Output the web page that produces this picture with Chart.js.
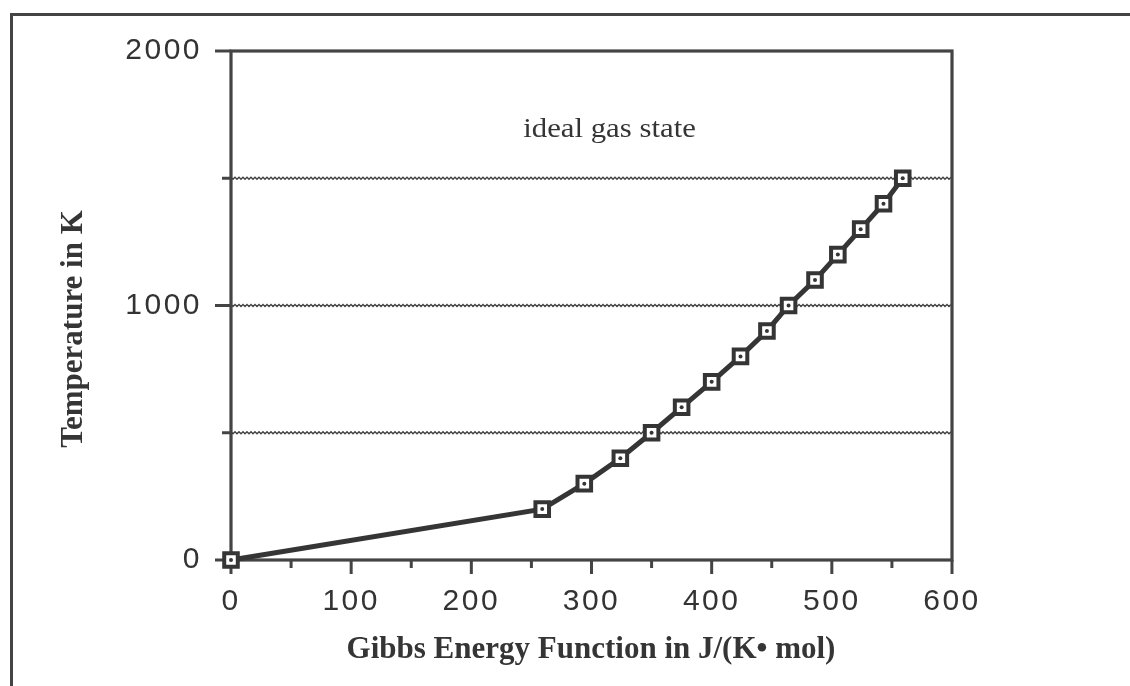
<!DOCTYPE html>
<html>
<head>
<meta charset="utf-8">
<script src="https://cdn.jsdelivr.net/npm/chart.js@4.4.1/dist/chart.umd.min.js"></script>
<style>
  html, body { margin: 0; padding: 0; background: #fff; }
  #wrap { width: 1130px; height: 686px; }
</style>
</head>
<body>
<div id="wrap"><canvas id="chart" width="1130" height="686"></canvas></div>
<script>
// 数据
const gibbsValues = [0, 259, 294, 324, 350, 375, 400, 424, 446, 464, 486, 505, 524, 543, 559];
const temperatures = [0, 200, 300, 400, 500, 600, 700, 800, 900, 1000, 1100, 1200, 1300, 1400, 1500];

// 刻度
const xTickValues = [0, 50, 100, 150, 200, 250, 300, 350, 400, 450, 500, 550, 600];
const xLabelValues = [0, 100, 200, 300, 400, 500, 600];
const yTickValues = [0, 500, 1000, 1500, 2000];
const yLabelValues = [0, 1000, 2000];
const gridValues = [500, 1000, 1500];

// 文字
const xTitle = 'Gibbs Energy Function in J/(K\u2022 mol)';
const yTitle = 'Temperature in K';
const noteText = 'ideal gas state';
const notePos = [315, 1690];

const INK = '#353535';

const points = gibbsValues.map((g, i) => ({ x: g, y: temperatures[i] }));

// 画框、网格、刻度和标题
const framePlugin = {
  id: 'frame',
  beforeDraw(chart) {
    const ctx = chart.ctx;
    ctx.save();
    ctx.fillStyle = '#fff';
    ctx.fillRect(0, 0, chart.width, chart.height);
    ctx.strokeStyle = '#444';
    ctx.lineWidth = 3;
    ctx.beginPath();
    ctx.moveTo(11.5, chart.height);
    ctx.lineTo(11.5, 14.5);
    ctx.lineTo(chart.width, 14.5);
    ctx.stroke();
    ctx.restore();
    // 刻度数字字距
    ctx.letterSpacing = '2.5px';
  },
  beforeDatasetsDraw(chart) {
    const ctx = chart.ctx;
    ctx.letterSpacing = '0px';
    const area = chart.chartArea;
    const xs = chart.scales.x, ys = chart.scales.y;
    ctx.save();
    // 波浪网格线
    ctx.strokeStyle = '#444';
    ctx.lineWidth = 1.4;
    gridValues.forEach(v => {
      const py = ys.getPixelForValue(v);
      ctx.beginPath();
      let up = true;
      for (let px = area.left; px <= area.right; px += 2) {
        const yy = py + (up ? -1 : 1);
        if (px === area.left) ctx.moveTo(px, yy); else ctx.lineTo(px, yy);
        up = !up;
      }
      ctx.stroke();
    });
    // 刻度线
    ctx.strokeStyle = '#444';
    ctx.lineWidth = 3;
    xTickValues.forEach(v => {
      const px = xs.getPixelForValue(v);
      const len = v % 100 === 0 ? 14 : 8;
      ctx.beginPath();
      ctx.moveTo(px, area.bottom);
      ctx.lineTo(px, area.bottom + len);
      ctx.stroke();
    });
    yTickValues.forEach(v => {
      const py = ys.getPixelForValue(v);
      const len = v % 1000 === 0 ? 16 : 9;
      ctx.beginPath();
      ctx.moveTo(area.left - len, py);
      ctx.lineTo(area.left, py);
      ctx.stroke();
    });
    // 绘图区边框
    ctx.lineWidth = 3.2;
    ctx.strokeRect(area.left, area.top, area.right - area.left, area.bottom - area.top);
    ctx.restore();
  },
  afterDraw(chart) {
    const ctx = chart.ctx;
    const xs = chart.scales.x, ys = chart.scales.y;
    ctx.save();
    ctx.letterSpacing = '0px';
    ctx.fillStyle = INK;
    ctx.textAlign = 'center';
    ctx.textBaseline = 'middle';
    ctx.font = 'bold 31px "Liberation Serif"';
    ctx.fillText(xTitle, 591, 650);
    ctx.save();
    ctx.translate(74, 329);
    ctx.rotate(-Math.PI / 2);
    ctx.fillText(yTitle, 0, 0);
    ctx.restore();
    // 注释文字（字形较宽）
    ctx.save();
    ctx.translate(xs.getPixelForValue(notePos[0]), ys.getPixelForValue(notePos[1]));
    ctx.scale(1.14, 1);
    ctx.font = '27px "Liberation Serif"';
    ctx.fillText(noteText, 0, 0);
    ctx.restore();
    ctx.restore();
  }
};

new Chart(document.getElementById('chart').getContext('2d'), {
  type: 'scatter',
  data: {
    datasets: [
      {
        // 方块中心的小点
        data: points,
        showLine: false,
        pointStyle: 'circle',
        pointRadius: 2,
        pointBorderWidth: 0,
        pointBackgroundColor: INK,
        order: 0,
        clip: false
      },
      {
        data: points,
        showLine: true,
        borderColor: INK,
        borderWidth: 5,
        tension: 0,
        pointStyle: 'rect',
        pointRadius: 9.6,
        pointBorderWidth: 4,
        pointBorderColor: INK,
        pointBackgroundColor: '#fff',
        order: 1,
        clip: false
      }
    ]
  },
  options: {
    responsive: false,
    animation: false,
    devicePixelRatio: 1,
    layout: { padding: { top: 51, right: 178, left: 0, bottom: 0 } },
    plugins: {
      legend: { display: false },
      tooltip: { enabled: false }
    },
    scales: {
      x: {
        type: 'linear',
        min: 0,
        max: 600,
        grid: { display: false, drawTicks: false, tickLength: 0 },
        border: { display: false },
        ticks: {
          stepSize: 50,
          autoSkip: false,
          maxRotation: 0,
          padding: 24,
          color: '#333',
          font: { family: '"Liberation Sans"', size: 30 },
          callback: v => xLabelValues.includes(v) ? String(v) : ''
        },
        afterFit: scale => { scale.height = 126; }
      },
      y: {
        type: 'linear',
        min: 0,
        max: 2000,
        grid: { display: false, drawTicks: false, tickLength: 0 },
        border: { display: false },
        ticks: {
          stepSize: 500,
          autoSkip: false,
          padding: 29,
          color: '#333',
          font: { family: '"Liberation Sans"', size: 30 },
          callback: v => yLabelValues.includes(v) ? String(v) : ''
        },
        afterFit: scale => { scale.width = 231; }
      }
    }
  },
  plugins: [framePlugin]
});
</script>
</body>
</html>
